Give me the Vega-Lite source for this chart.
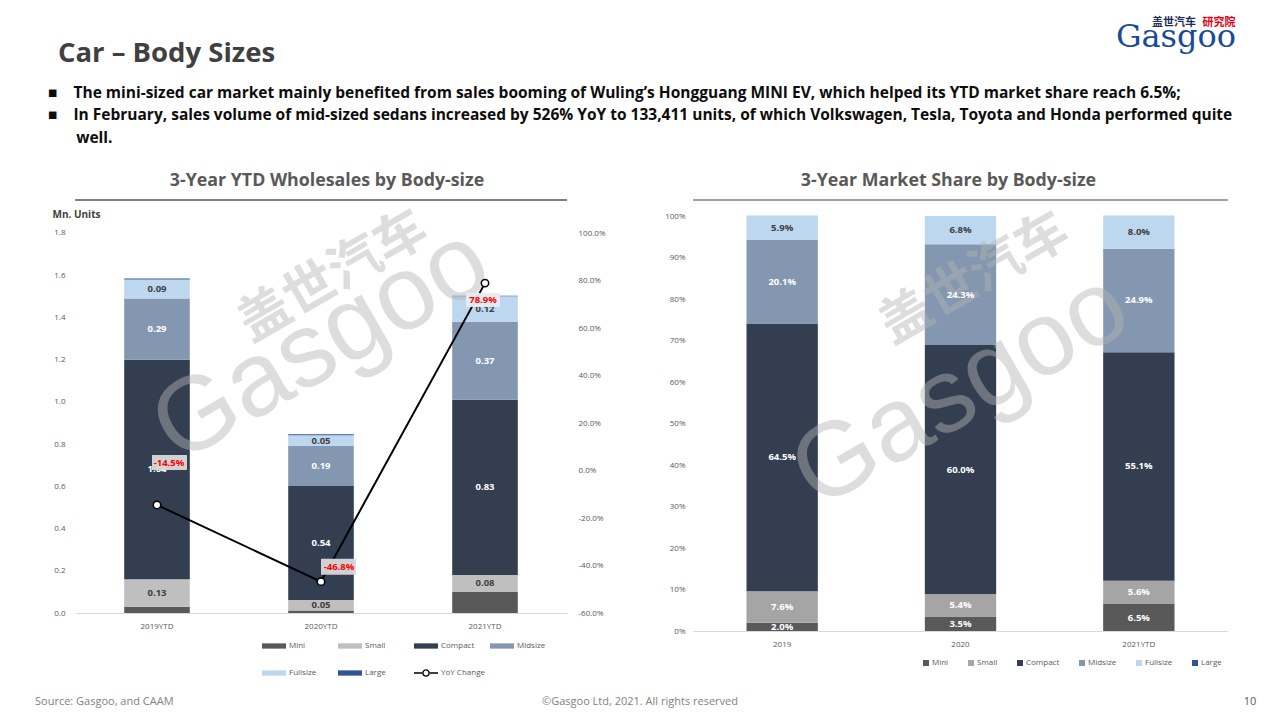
{
  "$schema": "https://vega.github.io/schema/vega-lite/v6.json",
  "background": "white",
  "padding": {"left": 35, "top": 17, "right": 5, "bottom": 5},
  "config": {
    "font": "Open Sans",
    "view": {"stroke": null},
    "axis": {"labelFont": "Open Sans", "labelColor": "#595959", "labelFontSize": 8, "ticks": false, "grid": false, "domain": false},
    "legend": {"labelFont": "Open Sans", "labelColor": "#595959", "labelFontSize": 8}
  },
  "title": {
    "text": "\u200b\u00a0\u200aCar \u2013 Body Sizes",
    "subtitle": [
      "\u25a0\u00a0\u00a0\u00a0\u00a0The mini-sized car market mainly benefited from sales booming of Wuling\u2019s Hongguang MINI EV, which helped its YTD market share reach 6.5%;",
      "\u25a0\u00a0\u00a0\u00a0\u00a0In February, sales volume of mid-sized sedans increased by 526% YoY to 133,411 units, of which Volkswagen, Tesla, Toyota and Honda performed quite",
      "\u200b\u00a0\u00a0\u00a0\u00a0\u00a0\u00a0\u00a0well."
    ],
    "anchor": "start",
    "frame": "group",
    "dx": -27,
    "font": "Open Sans",
    "fontSize": 27.5,
    "fontWeight": "bold",
    "color": "#404040",
    "subtitleFont": "Open Sans",
    "subtitleFontSize": 15.5,
    "subtitleFontWeight": "bold",
    "subtitleColor": "#0d0d0d",
    "subtitleLineHeight": 22.5,
    "subtitlePadding": 18,
    "offset": -129
  },
  "datasets": {
    "wholesale": [
      {"year": "2019YTD", "type": "Mini", "value": 0.03},
      {"year": "2019YTD", "type": "Small", "value": 0.13},
      {"year": "2019YTD", "type": "Compact", "value": 1.04},
      {"year": "2019YTD", "type": "Midsize", "value": 0.29},
      {"year": "2019YTD", "type": "Fullsize", "value": 0.09},
      {"year": "2019YTD", "type": "Large", "value": 0.005},
      {"year": "2020YTD", "type": "Mini", "value": 0.012},
      {"year": "2020YTD", "type": "Small", "value": 0.05},
      {"year": "2020YTD", "type": "Compact", "value": 0.54},
      {"year": "2020YTD", "type": "Midsize", "value": 0.19},
      {"year": "2020YTD", "type": "Fullsize", "value": 0.05},
      {"year": "2020YTD", "type": "Large", "value": 0.005},
      {"year": "2021YTD", "type": "Mini", "value": 0.10},
      {"year": "2021YTD", "type": "Small", "value": 0.08},
      {"year": "2021YTD", "type": "Compact", "value": 0.83},
      {"year": "2021YTD", "type": "Midsize", "value": 0.37},
      {"year": "2021YTD", "type": "Fullsize", "value": 0.12},
      {"year": "2021YTD", "type": "Large", "value": 0.003}
    ],
    "yoy": [
      {"year": "2019YTD", "yoy": -0.145},
      {"year": "2020YTD", "yoy": -0.468},
      {"year": "2021YTD", "yoy": 0.789}
    ],
    "share": [
      {"period": "2019", "type": "Mini", "share": 0.020},
      {"period": "2019", "type": "Small", "share": 0.076},
      {"period": "2019", "type": "Compact", "share": 0.645},
      {"period": "2019", "type": "Midsize", "share": 0.201},
      {"period": "2019", "type": "Fullsize", "share": 0.059},
      {"period": "2020", "type": "Mini", "share": 0.035},
      {"period": "2020", "type": "Small", "share": 0.054},
      {"period": "2020", "type": "Compact", "share": 0.600},
      {"period": "2020", "type": "Midsize", "share": 0.243},
      {"period": "2020", "type": "Fullsize", "share": 0.068},
      {"period": "2021YTD", "type": "Mini", "share": 0.065},
      {"period": "2021YTD", "type": "Small", "share": 0.056},
      {"period": "2021YTD", "type": "Compact", "share": 0.551},
      {"period": "2021YTD", "type": "Midsize", "share": 0.249},
      {"period": "2021YTD", "type": "Fullsize", "share": 0.080}
    ],
    "brand": [
      {"en": "Gasgoo", "cn": "\u76d6\u4e16\u6c7d\u8f66", "inst": "\u7814\u7a76\u9662"}
    ],
    "footer": [
      {"part": "source", "label": "Source: Gasgoo, and CAAM"},
      {"part": "copyright", "label": "\u00a9Gasgoo Ltd,  2021. All rights reserved"},
      {"part": "page", "label": "10"}
    ]
  },
  "bounds": "flush",
  "columns": 2,
  "spacing": {"row": 66, "column": 126},
  "resolve": {"scale": {"color": "independent"}, "legend": {"color": "independent"}},
  "concat": [
    {
      "width": 492,
      "height": 413,
      "title": {"text": "3-Year YTD Wholesales  by Body-size", "font": "Open Sans", "fontSize": 17.8, "fontWeight": "bold", "color": "#595959", "offset": 9, "dx": 6},
      "layer": [
        {
          "data": {"name": "wholesale"},
          "transform": [
            {"calculate": "indexof(['Mini','Small','Compact','Midsize','Fullsize','Large'], datum.type)", "as": "ord"},
            {"stack": "value", "groupby": ["year"], "sort": [{"field": "ord", "order": "ascending"}], "as": ["v0", "v1"]},
            {"calculate": "(datum.v0 + datum.v1) / 2", "as": "mid"}
          ],
          "layer": [
            {
              "mark": {"type": "bar"},
              "encoding": {
                "x": {"field": "year", "type": "nominal", "scale": {"paddingInner": 0.6, "paddingOuter": 0.3}, "axis": {"title": null, "labelAngle": 0, "domain": true, "domainColor": "#d9d9d9", "labelPadding": 9}},
                "y": {"field": "v0", "type": "quantitative", "scale": {"domain": [0, 1.9563], "nice": false}, "axis": {"values": [0, 0.2, 0.4, 0.6, 0.8, 1.0, 1.2, 1.4, 1.6, 1.8], "format": ".1f", "labelPadding": 10, "title": "Mn. Units", "titleAngle": 0, "titleAlign": "left", "titleBaseline": "middle", "titleX": -23, "titleY": 14, "titleFontSize": 10, "titleFontWeight": "bold", "titleColor": "#404040"}},
                "y2": {"field": "v1"},
                "color": {
                  "field": "type",
                  "type": "nominal",
                  "scale": {"domain": ["Mini", "Small", "Compact", "Midsize", "Fullsize", "Large", "YoY Change"], "range": ["#595959", "#bfbfbf", "#333f50", "#8497b0", "#bdd7ee", "#2f5597", "#000000"]},
                  "legend": {
                    "orient": "none",
                    "legendX": 187,
                    "legendY": 434,
                    "title": null,
                    "direction": "horizontal",
                    "columns": 4,
                    "gridAlign": "all",
                    "columnPadding": 5,
                    "rowPadding": 11,
                    "labelOffset": 3,
                    "symbolSize": 576,
                    "symbolStrokeWidth": 0,
                    "encode": {"symbols": {"update": {"shape": {"signal": "datum.value === 'YoY Change' ? 'M-1,-0.07H-0.3V0.07H-1Z M0.3,-0.07H1V0.07H0.3Z M0.32,0A0.32,0.32 0 1,0 -0.32,0A0.32,0.32 0 1,0 0.32,0Z M0.2,0A0.2,0.2 0 1,1 -0.2,0A0.2,0.2 0 1,1 0.2,0Z' : 'M-1,-0.22H1V0.22H-1Z'"}}}}
                  }
                }
              }
            },
            {
              "data": {"name": "brand"},
              "mark": {"type": "text", "fontSize": 52, "fontWeight": "bold", "angle": 330, "dx": 14, "color": "#b4b4b4", "opacity": 0.45, "font": "Noto Sans CJK SC"},
              "encoding": {"x": {"datum": "2020YTD"}, "y": {"datum": 1.56, "type": "quantitative"}, "text": {"field": "cn"}}
            },
            {
              "data": {"name": "brand"},
              "mark": {"type": "text", "fontSize": 105, "angle": 330, "color": "#b4b4b4", "opacity": 0.45, "font": "Liberation Sans"},
              "encoding": {"x": {"datum": "2020YTD"}, "y": {"datum": 1.27, "type": "quantitative"}, "text": {"field": "en"}}
            },
            {
              "transform": [{"filter": "datum.type === 'Small' || datum.type === 'Compact' || datum.type === 'Midsize' || datum.type === 'Fullsize'"}],
              "mark": {"type": "text", "fontSize": 9.5, "fontWeight": "bold"},
              "encoding": {
                "x": {"field": "year", "type": "nominal"},
                "y": {"field": "mid", "type": "quantitative"},
                "text": {"field": "value", "type": "quantitative", "format": ".2f"},
                "color": {"condition": {"test": "datum.type === 'Small' || datum.type === 'Fullsize'", "value": "#404040"}, "value": "#ffffff"}
              }
            },
            {
              "mark": {"type": "rule", "color": "#808080", "strokeWidth": 1.5},
              "encoding": {"y": {"datum": 1.9563, "type": "quantitative"}}
            }
          ]
        },
        {
          "data": {"name": "yoy"},
          "transform": [{"calculate": "replace(format(datum.yoy, '.1%'), '\u2212', '-')", "as": "lab"}],
          "encoding": {
            "x": {"field": "year", "type": "nominal"},
            "y": {"field": "yoy", "type": "quantitative", "scale": {"domain": [-0.6, 1.139], "nice": false}, "axis": {"orient": "right", "values": [-0.6, -0.4, -0.2, 0, 0.2, 0.4, 0.6, 0.8, 1.0], "labelExpr": "replace(format(datum.value, '.1%'), '\u2212', '-')", "labelPadding": 11, "title": null}}
          },
          "layer": [
            {"mark": {"type": "line", "color": "#000000", "strokeWidth": 2}},
            {"mark": {"type": "point", "filled": true, "fill": "#ffffff", "stroke": "#000000", "strokeWidth": 1.5, "size": 55, "opacity": 1}},
            {"transform": [{"filter": "datum.year === '2019YTD'"}], "mark": {"type": "point", "filled": true, "color": "#d9d9d9", "opacity": 0.95, "size": 100, "shape": "M-1,-10H6V-7H-1Z"}},
            {"transform": [{"filter": "datum.year === '2020YTD'"}], "mark": {"type": "point", "filled": true, "color": "#d9d9d9", "opacity": 0.95, "size": 100, "shape": "M0,-4.6H7V-1.4H0Z"}},
            {"transform": [{"filter": "datum.year === '2021YTD'"}], "mark": {"type": "point", "filled": true, "color": "#e6ecf2", "opacity": 0.95, "size": 100, "shape": "M-3.8,2H3V4.8H-3.8Z"}},
            {"transform": [{"filter": "datum.year === '2019YTD'"}], "mark": {"type": "text", "color": "#ff0000", "fontSize": 9.5, "fontWeight": "bold", "dx": 12, "dy": -42}, "encoding": {"text": {"field": "lab"}}},
            {"transform": [{"filter": "datum.year === '2020YTD'"}], "mark": {"type": "text", "color": "#ff0000", "fontSize": 9.5, "fontWeight": "bold", "dx": 18, "dy": -15}, "encoding": {"text": {"field": "lab"}}},
            {"transform": [{"filter": "datum.year === '2021YTD'"}], "mark": {"type": "text", "color": "#ff0000", "fontSize": 9.5, "fontWeight": "bold", "dx": -2, "dy": 17}, "encoding": {"text": {"field": "lab"}}}
          ]
        }
      ],
      "resolve": {"scale": {"y": "independent"}}
    },
    {
      "width": 535,
      "height": 431,
      "title": {"text": "3-Year Market  Share by Body-size", "font": "Open Sans", "fontSize": 17.8, "fontWeight": "bold", "color": "#595959", "offset": 9, "dx": -12},
      "layer": [
        {
          "data": {"name": "share"},
          "transform": [
            {"calculate": "indexof(['Mini','Small','Compact','Midsize','Fullsize','Large'], datum.type)", "as": "ord"},
            {"stack": "share", "groupby": ["period"], "sort": [{"field": "ord", "order": "ascending"}], "as": ["s0", "s1"]},
            {"calculate": "(datum.s0 + datum.s1) / 2", "as": "mid"}
          ],
          "mark": {"type": "bar"},
          "encoding": {
            "x": {"field": "period", "type": "nominal", "scale": {"paddingInner": 0.6, "paddingOuter": 0.3}, "axis": {"title": null, "labelAngle": 0, "domain": true, "domainColor": "#d9d9d9", "labelPadding": 9}},
            "y": {"field": "s0", "type": "quantitative", "scale": {"domain": [0, 1.0386], "nice": false}, "axis": {"values": [0, 0.1, 0.2, 0.3, 0.4, 0.5, 0.6, 0.7, 0.8, 0.9, 1.0], "format": ".0%", "labelPadding": 8, "title": null}},
            "y2": {"field": "s1"},
            "color": {
              "field": "type",
              "type": "nominal",
              "scale": {"domain": ["Mini", "Small", "Compact", "Midsize", "Fullsize", "Large"], "range": ["#595959", "#a5a5a5", "#333f50", "#8497b0", "#bdd7ee", "#2f5597"]},
              "legend": {
                "orient": "none",
                "legendX": 229,
                "legendY": 459,
                "title": null,
                "direction": "horizontal",
                "columns": 6,
                "columnPadding": 18,
                "labelOffset": 2,
                "symbolType": "square",
                "symbolSize": 36,
                "symbolStrokeWidth": 0
              }
            }
          }
        },
        {
          "data": {"name": "brand"},
          "mark": {"type": "text", "fontSize": 52, "fontWeight": "bold", "angle": 330, "dx": 16, "color": "#b4b4b4", "opacity": 0.45, "font": "Noto Sans CJK SC"},
          "encoding": {"x": {"datum": "2020", "type": "nominal"}, "y": {"datum": 0.83, "type": "quantitative"}, "text": {"field": "cn"}}
        },
        {
          "data": {"name": "brand"},
          "mark": {"type": "text", "fontSize": 105, "angle": 330, "color": "#b4b4b4", "opacity": 0.45, "font": "Liberation Sans"},
          "encoding": {"x": {"datum": "2020", "type": "nominal"}, "y": {"datum": 0.58, "type": "quantitative"}, "text": {"field": "en"}}
        },
        {
          "data": {"name": "share"},
          "transform": [
            {"calculate": "indexof(['Mini','Small','Compact','Midsize','Fullsize','Large'], datum.type)", "as": "ord"},
            {"stack": "share", "groupby": ["period"], "sort": [{"field": "ord", "order": "ascending"}], "as": ["s0", "s1"]},
            {"calculate": "(datum.s0 + datum.s1) / 2", "as": "mid"}
          ],
          "mark": {"type": "text", "fontSize": 9.5, "fontWeight": "bold"},
          "encoding": {
            "x": {"field": "period", "type": "nominal"},
            "y": {"field": "mid", "type": "quantitative"},
            "text": {"field": "share", "type": "quantitative", "format": ".1%"},
            "color": {"condition": {"test": "datum.type === 'Fullsize'", "value": "#404040"}, "value": "#ffffff"}
          }
        },
        {
          "data": {"name": "brand"},
          "mark": {"type": "rule", "color": "#808080", "strokeWidth": 1.5},
          "encoding": {"y": {"datum": 1.0386, "type": "quantitative"}}
        }
      ]
    },
    {
      "width": 492,
      "height": 10,
      "data": {"name": "footer"},
      "encoding": {
        "x": {"field": "part", "type": "ordinal", "scale": {"type": "point", "domain": ["source", "copyright", "page"], "padding": 0}, "axis": null},
        "text": {"field": "label"}
      },
      "layer": [
        {"transform": [{"filter": "datum.part === 'source'"}], "mark": {"type": "text", "align": "left", "baseline": "middle", "dx": -40, "fontSize": 11, "color": "#7f7f7f"}},
        {"transform": [{"filter": "datum.part === 'copyright'"}], "mark": {"type": "text", "align": "center", "baseline": "middle", "dx": 319, "fontSize": 11, "color": "#7f7f7f"}},
        {"transform": [{"filter": "datum.part === 'page'"}], "mark": {"type": "text", "align": "center", "baseline": "middle", "dx": 683, "fontSize": 11, "color": "#595959"}},
        {"data": {"name": "brand"}, "mark": {"type": "text", "align": "center", "baseline": "middle", "dx": 607, "dy": -679, "fontSize": 11, "fontWeight": "bold", "font": "Noto Sans CJK SC", "color": "#1f2d5c"}, "encoding": {"x": {"datum": "page"}, "text": {"field": "cn"}}},
        {"data": {"name": "brand"}, "mark": {"type": "text", "align": "center", "baseline": "middle", "dx": 652, "dy": -679, "fontSize": 11, "fontWeight": "bold", "font": "Noto Sans CJK SC", "color": "#e60012"}, "encoding": {"x": {"datum": "page"}, "text": {"field": "inst"}}},
        {"data": {"name": "brand"}, "mark": {"type": "text", "align": "center", "baseline": "middle", "dx": 609, "dy": -665, "fontSize": 32, "font": "DejaVu Serif", "color": "#1a4a9c"}, "encoding": {"x": {"datum": "page"}, "text": {"field": "en"}}}
      ]
    }
  ]
}
